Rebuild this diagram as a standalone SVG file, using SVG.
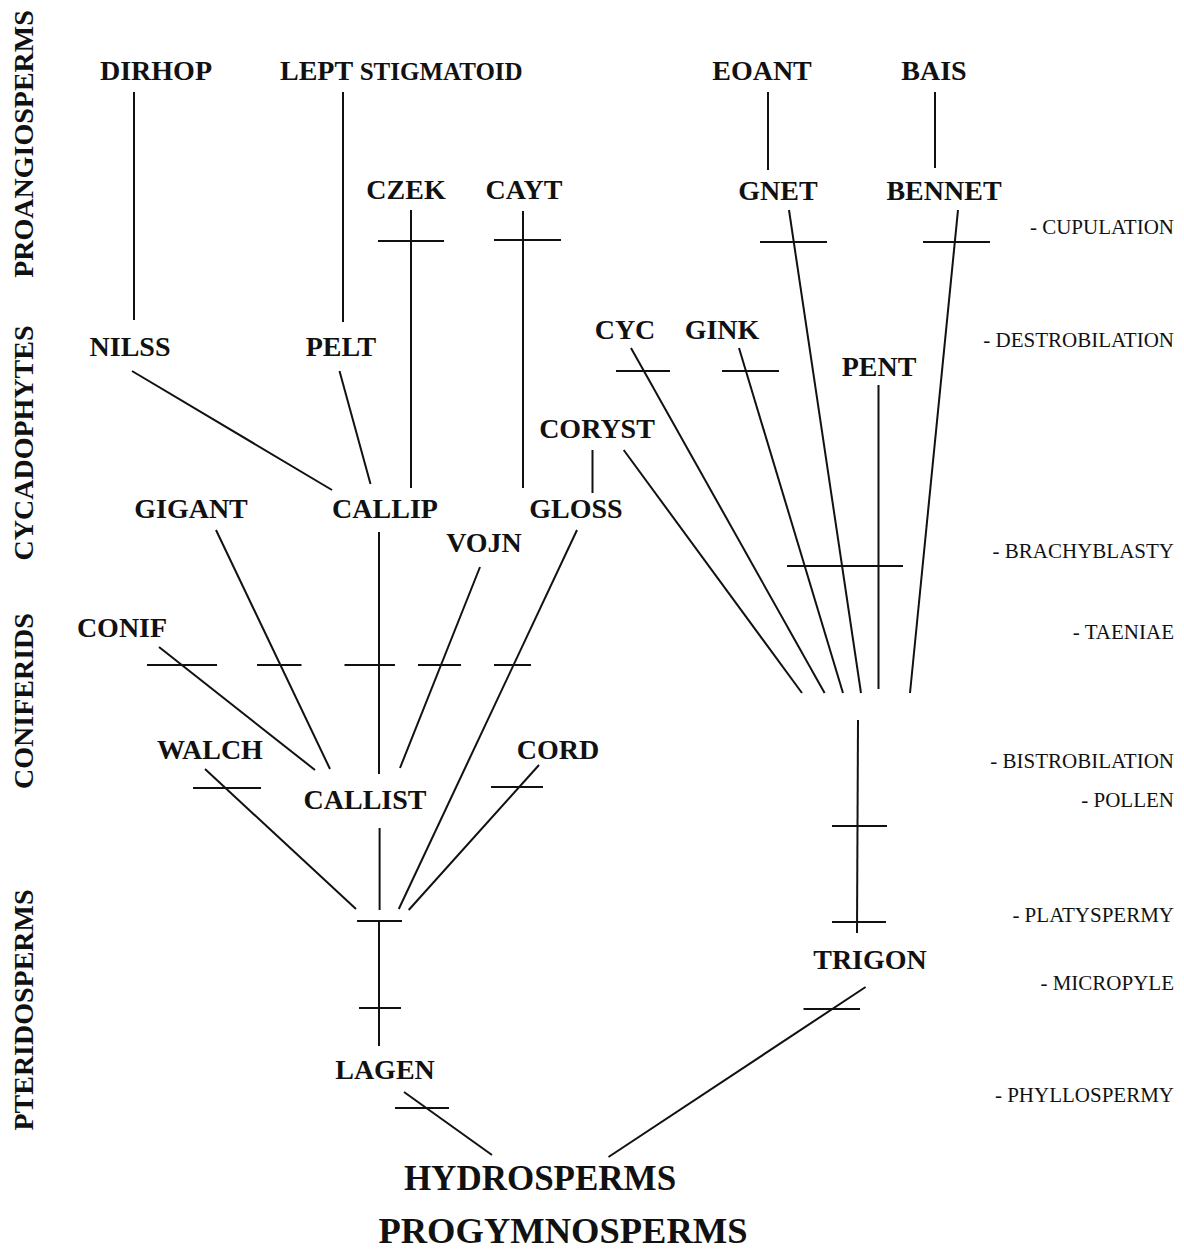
<svg xmlns="http://www.w3.org/2000/svg" width="1184" height="1253" viewBox="0 0 1184 1253">
<style>
.n{font-family:"Liberation Serif","Times New Roman",serif;font-weight:bold;font-size:28px;fill:#111;text-anchor:middle}
.g{font-family:"Liberation Serif","Times New Roman",serif;font-weight:bold;font-size:28px;fill:#111;text-anchor:middle}
.c{font-family:"Liberation Serif","Times New Roman",serif;font-size:21px;fill:#111;text-anchor:end}
.e line{stroke:#111;stroke-width:2;stroke-linecap:butt}
</style>
<rect width="1184" height="1253" fill="#fff"/>
<g id="groups">
<text class="g" transform="translate(33,144) rotate(-90)">PROANGIOSPERMS</text>
<text class="g" transform="translate(33,443) rotate(-90)">CYCADOPHYTES</text>
<text class="g" transform="translate(33,701) rotate(-90)">CONIFERIDS</text>
<text class="g" transform="translate(33,1010) rotate(-90)">PTERIDOSPERMS</text>
</g>
<g id="characters">
<text class="c" x="1174" y="234">- CUPULATION</text>
<text class="c" x="1174" y="347">- DESTROBILATION</text>
<text class="c" x="1174" y="558">- BRACHYBLASTY</text>
<text class="c" x="1174" y="639">- TAENIAE</text>
<text class="c" x="1174" y="768">- BISTROBILATION</text>
<text class="c" x="1174" y="807">- POLLEN</text>
<text class="c" x="1174" y="922">- PLATYSPERMY</text>
<text class="c" x="1174" y="990">- MICROPYLE</text>
<text class="c" x="1174" y="1102">- PHYLLOSPERMY</text>
</g>
<g id="node-DIRHOP"><text class="n" x="156" y="80">DIRHOP</text></g>
<g id="node-LEPT"><text class="n" x="280" y="80" style="text-anchor:start">LEPT <tspan font-size="25">STIGMATOID</tspan></text></g>
<g id="node-EOANT"><text class="n" x="762" y="80">EOANT</text></g>
<g id="node-BAIS"><text class="n" x="934" y="80">BAIS</text></g>
<g id="node-CZEK"><text class="n" x="406" y="199">CZEK</text></g>
<g id="node-CAYT"><text class="n" x="524" y="199">CAYT</text></g>
<g id="node-GNET"><text class="n" x="778" y="200">GNET</text></g>
<g id="node-BENNET"><text class="n" x="944" y="200">BENNET</text></g>
<g id="node-NILSS"><text class="n" x="130" y="356">NILSS</text></g>
<g id="node-PELT"><text class="n" x="341" y="356">PELT</text></g>
<g id="node-CYC"><text class="n" x="625" y="339">CYC</text></g>
<g id="node-GINK"><text class="n" x="722" y="339">GINK</text></g>
<g id="node-PENT"><text class="n" x="879" y="376">PENT</text></g>
<g id="node-CORYST"><text class="n" x="597" y="438">CORYST</text></g>
<g id="node-GIGANT"><text class="n" x="191" y="518">GIGANT</text></g>
<g id="node-CALLIP"><text class="n" x="385" y="518">CALLIP</text></g>
<g id="node-GLOSS"><text class="n" x="576" y="518">GLOSS</text></g>
<g id="node-VOJN"><text class="n" x="484" y="552">VOJN</text></g>
<g id="node-CONIF"><text class="n" x="122" y="637">CONIF</text></g>
<g id="node-WALCH"><text class="n" x="210" y="759">WALCH</text></g>
<g id="node-CALLIST"><text class="n" x="365" y="809">CALLIST</text></g>
<g id="node-CORD"><text class="n" x="558" y="759">CORD</text></g>
<g id="node-TRIGON"><text class="n" x="870" y="969">TRIGON</text></g>
<g id="node-LAGEN"><text class="n" x="385" y="1079">LAGEN</text></g>
<g id="node-HYDROSPERMS"><text class="n" x="540" y="1190" style="font-size:35px">HYDROSPERMS</text></g>
<g id="node-PROGYMNOSPERMS"><text class="n" x="563" y="1243" style="font-size:36.5px">PROGYMNOSPERMS</text></g>
<g id="connectors" class="e">
<line x1="134" y1="92" x2="134" y2="320"/>
<line x1="343" y1="92" x2="343" y2="322"/>
<line x1="768" y1="92" x2="768" y2="170"/>
<line x1="935" y1="92" x2="935" y2="168"/>
<line x1="411" y1="210" x2="411" y2="488"/>
<line x1="378" y1="241" x2="444" y2="241"/>
<line x1="523" y1="211" x2="523" y2="488"/>
<line x1="494" y1="240" x2="561" y2="240"/>
<line x1="789" y1="210" x2="861" y2="693"/>
<line x1="760" y1="242" x2="827" y2="242"/>
<line x1="958" y1="210" x2="910" y2="693"/>
<line x1="923" y1="242" x2="990" y2="242"/>
<line x1="132" y1="371" x2="332" y2="490"/>
<line x1="339.5" y1="371" x2="370.5" y2="484"/>
<line x1="631" y1="348" x2="824.6" y2="693"/>
<line x1="616" y1="371" x2="670" y2="371"/>
<line x1="739" y1="348" x2="843" y2="693"/>
<line x1="722" y1="371" x2="779" y2="371"/>
<line x1="878.5" y1="385" x2="878.5" y2="689"/>
<line x1="592.5" y1="450" x2="592.5" y2="493"/>
<line x1="623.7" y1="450" x2="802" y2="693"/>
<line x1="787" y1="566" x2="903" y2="566"/>
<line x1="577" y1="530" x2="398.8" y2="909"/>
<line x1="216" y1="530" x2="330" y2="769"/>
<line x1="379" y1="532" x2="379" y2="774"/>
<line x1="480" y1="567" x2="400" y2="768"/>
<line x1="159" y1="647" x2="315" y2="770"/>
<line x1="147" y1="665" x2="217" y2="665"/>
<line x1="257" y1="665" x2="301.5" y2="665"/>
<line x1="344.5" y1="665" x2="395" y2="665"/>
<line x1="418" y1="665" x2="461" y2="665"/>
<line x1="494" y1="665" x2="531" y2="665"/>
<line x1="205" y1="769" x2="356" y2="909"/>
<line x1="193" y1="788" x2="261" y2="788"/>
<line x1="539" y1="765" x2="408.7" y2="910"/>
<line x1="491" y1="787" x2="543" y2="787"/>
<line x1="379.6" y1="828" x2="379.6" y2="910"/>
<line x1="357" y1="921" x2="402" y2="921"/>
<line x1="379" y1="921" x2="379" y2="1046"/>
<line x1="359" y1="1008" x2="401" y2="1008"/>
<line x1="404" y1="1092" x2="492" y2="1155"/>
<line x1="395" y1="1108" x2="449" y2="1108"/>
<line x1="858" y1="720" x2="857" y2="933"/>
<line x1="832" y1="826" x2="887" y2="826"/>
<line x1="832" y1="922" x2="886" y2="922"/>
<line x1="865.6" y1="987" x2="608.5" y2="1157"/>
<line x1="803.5" y1="1009" x2="860" y2="1009"/>
</g>
</svg>
